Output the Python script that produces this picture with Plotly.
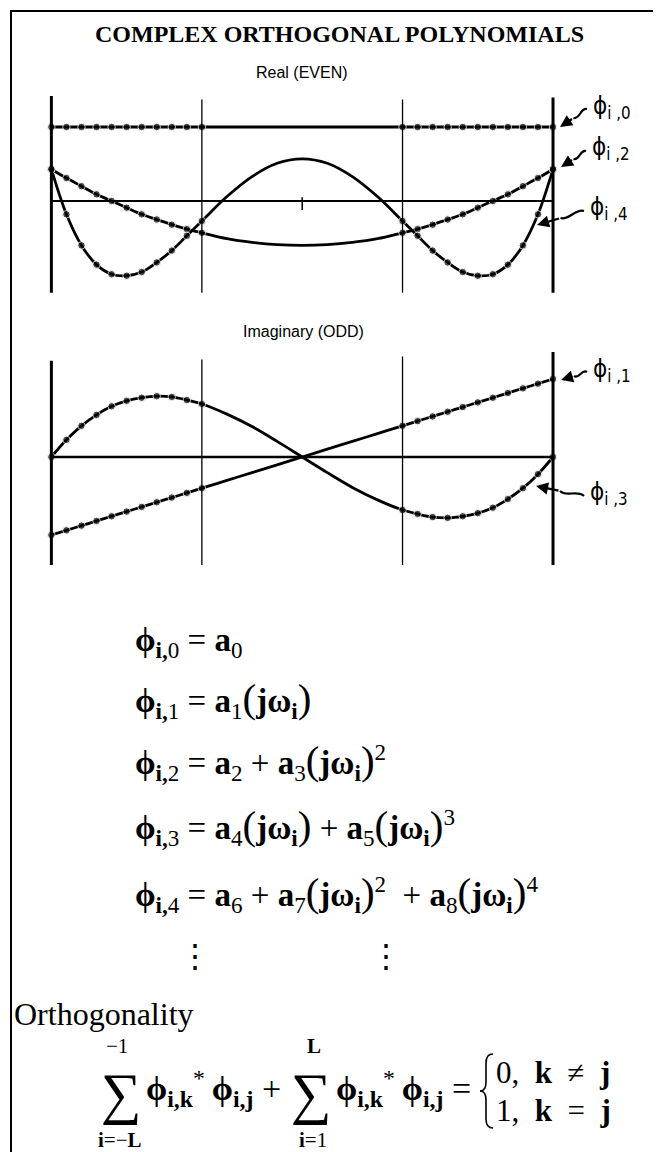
import plotly.graph_objects as go

W, H = 661, 1152

# frequency points (normalised), dots only in the outer bands
X_PTS = [-1.0, -0.94, -0.88, -0.82, -0.76, -0.70, -0.64, -0.58, -0.52, -0.46, -0.40,
         -0.30, -0.20, -0.10, 0.0, 0.10, 0.20, 0.30,
         0.40, 0.46, 0.52, 0.58, 0.64, 0.70, 0.76, 0.82, 0.88, 0.94, 1.0]

# real (even) polynomials
PHI0 = [1.0, 1.0, 1.0, 1.0, 1.0, 1.0, 1.0, 1.0, 1.0, 1.0, 1.0,
        1.0, 1.0, 1.0, 1.0, 1.0, 1.0, 1.0,
        1.0, 1.0, 1.0, 1.0, 1.0, 1.0, 1.0, 1.0, 1.0, 1.0, 1.0]
PHI2 = [0.43, 0.31, 0.20, 0.09, 0.00, -0.09, -0.18, -0.25, -0.32, -0.38, -0.43,
        -0.51, -0.56, -0.59, -0.60, -0.59, -0.56, -0.51,
        -0.43, -0.38, -0.32, -0.25, -0.18, -0.09, 0.00, 0.09, 0.20, 0.31, 0.43]
PHI4 = [0.43, -0.18, -0.60, -0.86, -0.99, -1.01, -0.96, -0.83, -0.67, -0.47, -0.27,
        0.06, 0.33, 0.51, 0.57, 0.51, 0.33, 0.06,
        -0.27, -0.47, -0.67, -0.83, -0.96, -1.01, -0.99, -0.86, -0.60, -0.18, 0.43]

# imaginary (odd) polynomials
PHI1 = [-1.0, -0.94, -0.88, -0.82, -0.76, -0.70, -0.64, -0.58, -0.52, -0.46, -0.40,
        -0.30, -0.20, -0.10, 0.0, 0.10, 0.20, 0.30,
        0.40, 0.46, 0.52, 0.58, 0.64, 0.70, 0.76, 0.82, 0.88, 0.94, 1.0]
PHI3 = [0.0, 0.22, 0.40, 0.54, 0.65, 0.72, 0.76, 0.78, 0.77, 0.73, 0.68,
        0.55, 0.39, 0.20, 0.0, -0.20, -0.39, -0.55,
        -0.68, -0.73, -0.77, -0.78, -0.76, -0.72, -0.65, -0.54, -0.40, -0.22, 0.0]

GRID_X = [-1.0, -0.4, 0.4, 1.0]

def px(x):
    return x / W

def py(y):
    return 1 - y / H

dot_sizes = [7.5 if abs(v) >= 0.4 else 0 for v in X_PTS]

fig = go.Figure()

def curve(ys, xa, ya):
    fig.add_trace(go.Scatter(
        x=X_PTS, y=ys, xaxis=xa, yaxis=ya, mode="lines+markers",
        line=dict(color="black", width=2.8, shape="spline"),
        marker=dict(color="black", size=dot_sizes),
        showlegend=False, hoverinfo="skip"))

curve(PHI0, "x", "y")
curve(PHI2, "x", "y")
curve(PHI4, "x", "y")
curve(PHI1, "x2", "y2")
curve(PHI3, "x2", "y2")

shapes = []
# frame lines of the two plots
top_tops = [1.42, 1.37, 1.37, 1.40]
bot_tops = [1.235, 1.25, 1.29, 1.346]
for gx, t1, t2 in zip(GRID_X, top_tops, bot_tops):
    w = 3 if abs(gx) == 1 else 1.3
    shapes.append(dict(type="line", xref="x", yref="y", x0=gx, x1=gx, y0=-1.24, y1=t1,
                       line=dict(color="black", width=w)))
    shapes.append(dict(type="line", xref="x2", yref="y2", x0=gx, x1=gx, y0=-1.385, y1=t2,
                       line=dict(color="black", width=w)))
shapes.append(dict(type="line", xref="x", yref="y", x0=-1, x1=1, y0=0, y1=0,
                   line=dict(color="black", width=2.2)))
shapes.append(dict(type="line", xref="x", yref="y", x0=0, x1=0, y0=-0.12, y1=0.05,
                   line=dict(color="black", width=1.5)))
shapes.append(dict(type="line", xref="x2", yref="y2", x0=-1, x1=1, y0=0, y1=0,
                   line=dict(color="black", width=2.6)))
# outer border
shapes.append(dict(type="rect", xref="paper", yref="paper",
                   x0=px(3), x1=px(658), y0=py(1160), y1=py(3),
                   line=dict(color="black", width=2)))
# brace of the piecewise result
bx, btop, bmid, bbot = 478, 1046, 1083, 1120
brace = ("M {a},{b} Q {c},{b} {c},{d} L {c},{e} Q {c},{f} {g},{f} "
         "Q {c},{f} {c},{h} L {c},{i} Q {c},{j} {a},{j}").format(
    a=px(bx + 7), b=py(btop), c=px(bx), d=py(btop + 9), e=py(bmid - 9),
    f=py(bmid), g=px(bx - 6), h=py(bmid + 9), i=py(bbot - 9), j=py(bbot))
shapes.append(dict(type="path", xref="paper", yref="paper", path=brace,
                   line=dict(color="black", width=1.6)))

ann = []
serif = "Liberation Serif"
sans = "Liberation Sans"

def text(x, y, s, size, family=serif, xanchor="center"):
    ann.append(dict(xref="paper", yref="paper", x=px(x), y=py(y), text=s,
                    showarrow=False, xanchor=xanchor, yanchor="middle",
                    font=dict(family=family, size=size, color="black")))

text(331, 26, "<b>COMPLEX ORTHOGONAL POLYNOMIALS</b>", 24)
text(294, 64, "Real (EVEN)", 16, sans)
text(295, 323, "Imaginary (ODD)", 16, sans)

# curve labels: (label left x, label y, tail x, tail y, tip x, tip y) in pixels
labels = [("0", 583, 99, 579, 101, 552, 119),
          ("2", 582, 140, 578, 143, 553, 159),
          ("4", 580, 201, 576, 203, 529, 217),
          ("1", 583, 362, 579, 364, 553, 372),
          ("3", 580, 485, 576, 488, 528, 478)]
for k, lx, ly, tx, ty, hx, hy in labels:
    text(lx, ly, "ϕ<sub>i ,%s</sub>" % k, 24, "DejaVu Sans Condensed", "left")
    mx, my = hx + 0.5 * (tx - hx), hy + 0.5 * (ty - hy)
    dx, dy = tx - mx, ty - my
    n = (dx * dx + dy * dy) ** 0.5
    ox, oy = -dy / n * 5, dx / n * 5
    c1 = (mx + dx * 0.3 + ox, my + dy * 0.3 + oy)
    c2 = (mx + dx * 0.7 - ox, my + dy * 0.7 - oy)
    squiggle = "M {},{} C {},{} {},{} {},{}".format(
        px(mx), py(my), px(c1[0]), py(c1[1]), px(c2[0]), py(c2[1]), px(tx), py(ty))
    shapes.append(dict(type="path", xref="paper", yref="paper", path=squiggle,
                       line=dict(color="black", width=2.2)))
    ann.append(dict(xref="paper", yref="paper", x=px(hx), y=py(hy),
                    ax=mx - hx, ay=my - hy, text="", showarrow=True,
                    arrowhead=2, arrowsize=1.1, arrowwidth=2.2, arrowcolor="black"))

# polynomial definitions
P = "<b>ϕ</b><sub><b>i,</b>%s</sub>"
A = "<b>a</b><sub>%s</sub>"
JW = ('<span style="font-size:41px">(</span><b>jω</b><sub><b>i</b></sub>'
      '<span style="font-size:41px">)</span>')
eqs = [
    P % "0" + " = " + A % "0",
    P % "1" + " = " + A % "1" + JW,
    P % "2" + " = " + A % "2" + " + " + A % "3" + JW + "<sup>2</sup>",
    P % "3" + " = " + A % "4" + JW + " + " + A % "5" + JW + "<sup>3</sup>",
    P % "4" + " = " + A % "6" + " + " + A % "7" + JW + "<sup>2</sup>"
    + "  + " + A % "8" + JW + "<sup>4</sup>",
]
eq_y = [634, 691, 753, 818, 885]
for s, y in zip(eqs, eq_y):
    text(125, y, s, 33, serif, "left")
text(187, 948, "⋮", 32)
text(378, 948, "⋮", 32)

text(4, 1006, "Orthogonality", 32, serif, "left")

# orthogonality sum
TERM = "<b>ϕ</b><sub><b>i,k</b></sub><sup>*</sup>\u2009<b>ϕ</b><sub><b>i,j</b></sub>"
text(113, 1086, "∑", 57)
text(109, 1038, "−1", 21)
text(112, 1132, "<b>i</b>=−<b>L</b>", 21)
text(136, 1080, TERM + " +", 34, serif, "left")
text(303, 1086, "∑", 57)
text(306, 1038, "<b>L</b>", 21)
text(305, 1132, "<b>i</b>=1", 21)
text(326, 1080, TERM + " =", 34, serif, "left")
text(486, 1064, "0,\u2002<b>k</b>\u2002≠\u2002<b>j</b>", 31, serif, "left")
text(486, 1102, "1,\u2002<b>k</b>\u2002=\u2002<b>j</b>", 31, serif, "left")

ax_common = dict(visible=False, showgrid=False, zeroline=False, fixedrange=True)
fig.update_layout(
    width=W, height=H, margin=dict(l=0, r=0, t=0, b=0),
    paper_bgcolor="white", plot_bgcolor="rgba(0,0,0,0)",
    showlegend=False,
    xaxis=dict(domain=[px(18.3), px(570.1)], range=[-1.1, 1.1], **ax_common),
    yaxis=dict(domain=[py(292.9), py(82)], range=[-1.35, 1.5], **ax_common),
    xaxis2=dict(domain=[px(18.3), px(570.1)], range=[-1.1, 1.1], anchor="y2", **ax_common),
    yaxis2=dict(domain=[py(562.1), py(335.9)], range=[-1.45, 1.45], anchor="x2", **ax_common),
    shapes=shapes, annotations=ann,
)

fig.write_html("out.html")
